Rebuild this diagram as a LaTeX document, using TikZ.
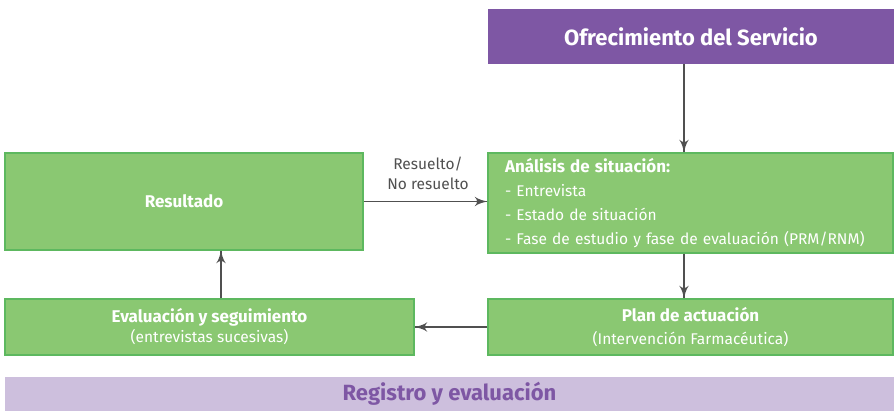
\documentclass[tikz,border=0pt]{standalone}
\usepackage{fontspec}
\setmainfont{Fira Sans}
\usepackage{tikz}
\usetikzlibrary{arrows}
\usetikzlibrary{decorations.markings}
\usetikzlibrary{positioning}
\definecolor{boxgreen}{HTML}{8AC872}
\definecolor{edgegreen}{HTML}{5DB85F}
\definecolor{darkpurple}{HTML}{7E57A4}
\definecolor{lightpurple}{HTML}{CDBFDD}
\definecolor{arrowgray}{HTML}{505050}
\newcommand{\bt}[1]{{\fontsize{17}{21}\selectfont\bfseries #1}}
\tikzset{flow/.style = {draw=arrowgray, line width=1.3pt,
                        decoration={markings,
                                    mark=at position 1 with {\arrow[scale=1.9]{latex'}}},
                        postaction={decorate}}}
\tikzset{gbox/.style = {rectangle, fill=boxgreen, draw=edgegreen, line width=1.2pt,
                        text=white, align=center, inner sep=0,
                        font=\fontsize{15.5}{21}\selectfont}}
\tikzset{pbox/.style = {rectangle, fill=darkpurple, text=white, inner sep=0,
                        font=\fontsize{22}{24}\selectfont\bfseries}}
\tikzset{bar/.style = {rectangle, fill=lightpurple, text=darkpurple, inner sep=0,
                       font=\fontsize{22}{24}\selectfont\bfseries}}

\begin{document}
\begin{tikzpicture}[x=1pt, y=-1pt]
      \useasboundingbox (0, 0) rectangle (894, 411);
      \node [pbox, minimum width=406, minimum height=55] (ofr) at (691, 36.5) {Ofrecimiento del Servicio};
      \node [gbox, minimum width=405, minimum height=100, text width=371, align=left,
             font=\fontsize{15.5}{24}\selectfont] (ana) at (690.5, 203)
            {\bt{Análisis de situación:}\\
             - Entrevista\\
             - Estado de situación\\
             - Fase de estudio y fase de evaluación (PRM/RNM)};
      \node [gbox, minimum width=358, minimum height=97] (res) at (184, 201.5) {\bt{Resultado}};
      \node [gbox, minimum width=405, minimum height=56, font=\fontsize{15.5}{23}\selectfont] (plan) at (690.5, 327)
            {\bt{Plan de actuación}\\(Intervención Farmacéutica)};
      \node [gbox, minimum width=409, minimum height=56, font=\fontsize{15.5}{20}\selectfont] (eva) at (209.5, 327)
            {\bt{Evaluación y seguimiento}\\(entrevistas sucesivas)};
      \node [bar, minimum width=889, minimum height=34] (reg) at (449.5, 394) {Registro y evaluación};
      \node [text=arrowgray, align=center, font=\fontsize{15.5}{20}\selectfont] (lab) at (428, 173)
            {Resuelto/\\No resuelto};
      \draw [flow] ([xshift=-7pt]ofr.south) -- ([xshift=-6.5pt]ana.north);
      \draw [flow] (res.east) -- (res.east -| ana.west);
      \draw [flow] ([xshift=-6.5pt]ana.south) -- ([xshift=-6.5pt]plan.north);
      \draw [flow] (plan.west) -- (eva.east);
      \draw [flow] ([xshift=11.5pt]eva.north) -- ([xshift=11.5pt]eva.north |- res.south);
    \end{tikzpicture}
\end{document}
